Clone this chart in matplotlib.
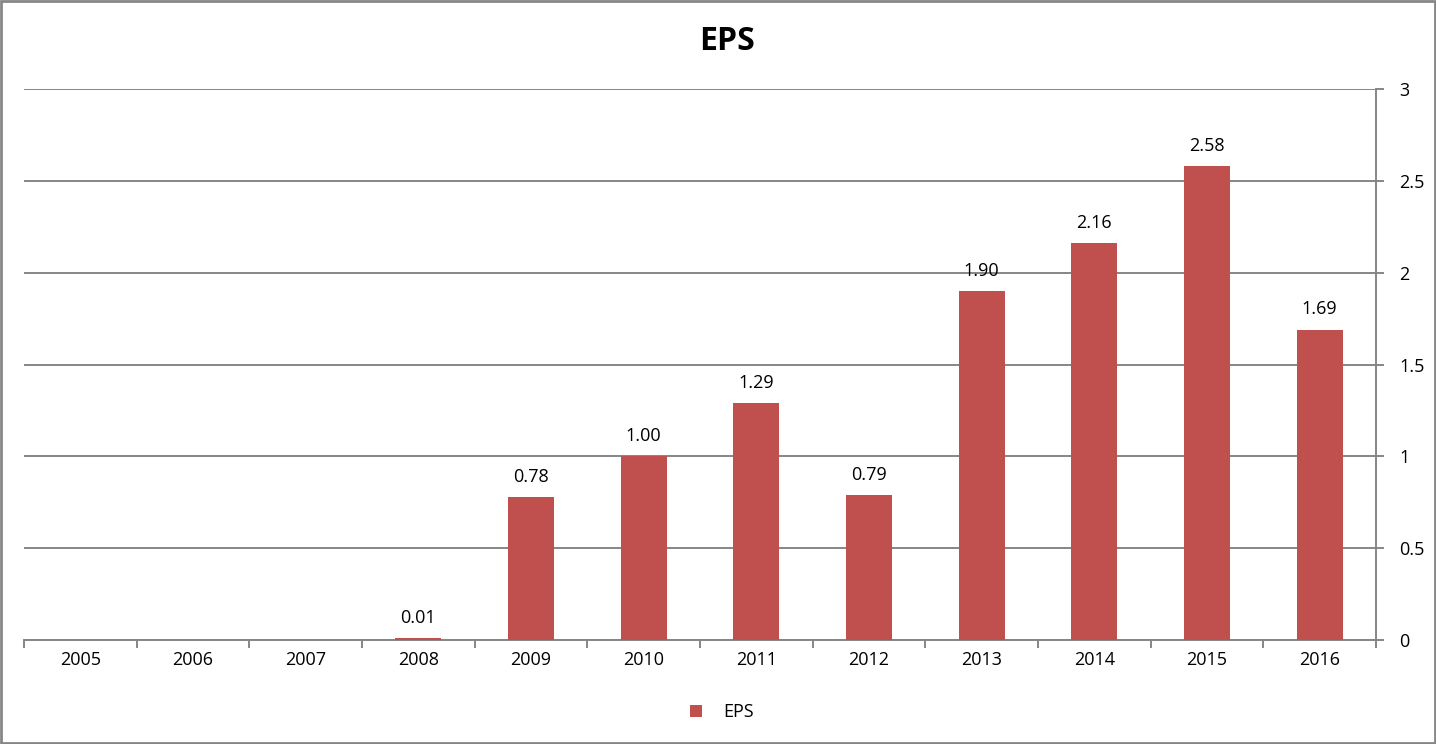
import matplotlib.pyplot as plt
from matplotlib.patches import Rectangle

years = ["2005", "2006", "2007", "2008", "2009", "2010", "2011", "2012", "2013", "2014", "2015", "2016"]
eps = [0, 0, 0, 0.01, 0.78, 1.00, 1.29, 0.79, 1.90, 2.16, 2.58, 1.69]
labels = ["", "", "", "0.01", "0.78", "1.00", "1.29", "0.79", "1.90", "2.16", "2.58", "1.69"]

plt.rcParams['font.family'] = ['Open Sans', 'DejaVu Sans']
bar_color = '#C0504D'
grid_color = '#868686'

fig = plt.figure(figsize=(14.36, 7.44), dpi=100)
ax = fig.add_axes([24 / 1436, 1 - 640 / 744, 1352 / 1436, 551 / 744])

x = list(range(len(years)))
bars = ax.bar(x, eps, width=0.41, color=bar_color, zorder=3, label="EPS")
for xi, v, lab in zip(x, eps, labels):
    if lab:
        ax.annotate(lab, (xi, v), xytext=(0, 8), textcoords='offset points',
                    ha='center', va='bottom', fontsize=13, color='black')

ax.set_xlim(-0.5, len(years) - 0.5)
ax.set_ylim(0, 3)
ax.set_yticks([0, 0.5, 1, 1.5, 2, 2.5, 3])
ax.set_yticklabels(["0", "0.5", "1", "1.5", "2", "2.5", "3"])
ax.yaxis.tick_right()
ax.yaxis.grid(True, color=grid_color, linewidth=1.4, zorder=0)
ax.set_axisbelow(True)

# category ticks sit between bars, labels centred under them
ax.set_xticks([i - 0.5 for i in range(len(years) + 1)])
ax.set_xticklabels([])
ax.set_xticks(x, minor=True)
ax.set_xticklabels(years, minor=True, fontsize=13)
ax.tick_params(axis='x', which='major', length=6, width=1.4, color=grid_color, direction='out')
ax.tick_params(axis='x', which='minor', length=0, pad=8)
ax.tick_params(axis='y', length=6, width=1.4, color=grid_color, labelsize=13, pad=11)

for side in ['top', 'left']:
    ax.spines[side].set_visible(False)
ax.spines['bottom'].set_color(grid_color)
ax.spines['bottom'].set_linewidth(1.4)
ax.spines['right'].set_color(grid_color)
ax.spines['right'].set_linewidth(1.4)

fig.text(0.506, 1 - 42 / 744, "EPS", ha='center', va='center', fontsize=23, fontweight='bold')

fig.legend(handles=[bars], labels=["EPS"], loc='center', bbox_to_anchor=(0.503, 1 - 712 / 744),
           frameon=False, fontsize=13, handlelength=0.65, handleheight=0.65, handletextpad=1.2)

fig.patches.append(Rectangle((0.0007, 0.001), 0.9986, 0.998, transform=fig.transFigure,
                             fill=False, edgecolor=grid_color, linewidth=2))

fig.savefig("out.png", dpi=100)
